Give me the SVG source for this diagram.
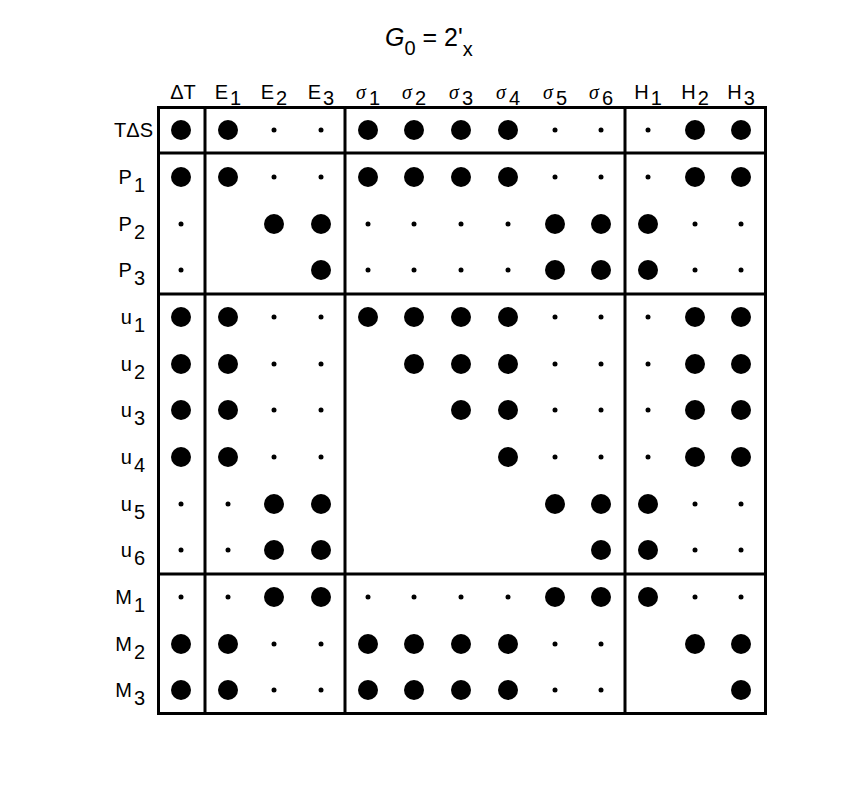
<svg xmlns="http://www.w3.org/2000/svg" width="856" height="812" viewBox="0 0 856 812">
<style>
text{font-family:"Liberation Sans",Arial,sans-serif;font-size:20px;fill:#000}
.g{font-family:"Liberation Serif",serif;font-style:italic}
.b{fill:#000}
.l{stroke:#000;stroke-width:3;fill:none}
</style>
<defs><circle id="B" r="10"/><circle id="S" r="2.5"/></defs>
<rect width="856" height="812" fill="#fff"/>
<text x="385" y="46" style="font-size:25px"><tspan font-style="italic">G</tspan><tspan dy="9" font-size="20">0</tspan><tspan dy="-9"> = 2'</tspan><tspan dy="10" font-size="20">x</tspan></text>
<g id="cols" text-anchor="middle">
<text x="183" y="99">ΔT</text>
<text x="228" y="99">E<tspan dy="6" dx="2">1</tspan></text>
<text x="274" y="99">E<tspan dy="6" dx="2">2</tspan></text>
<text x="321" y="99">E<tspan dy="6" dx="2">3</tspan></text>
<text x="368" y="99"><tspan class="g">σ</tspan><tspan dy="6" dx="3">1</tspan></text>
<text x="414" y="99"><tspan class="g">σ</tspan><tspan dy="6" dx="3">2</tspan></text>
<text x="461" y="99"><tspan class="g">σ</tspan><tspan dy="6" dx="3">3</tspan></text>
<text x="508" y="99"><tspan class="g">σ</tspan><tspan dy="6" dx="3">4</tspan></text>
<text x="555" y="99"><tspan class="g">σ</tspan><tspan dy="6" dx="3">5</tspan></text>
<text x="601" y="99"><tspan class="g">σ</tspan><tspan dy="6" dx="3">6</tspan></text>
<text x="648" y="99">H<tspan dy="6" dx="2">1</tspan></text>
<text x="695" y="99">H<tspan dy="6" dx="2">2</tspan></text>
<text x="741" y="99">H<tspan dy="6" dx="2">3</tspan></text>
</g>
<g id="rows" text-anchor="end">
<text x="153" y="137">TΔS</text>
<text x="145" y="184">P<tspan dy="8" dx="2">1</tspan></text>
<text x="145" y="231">P<tspan dy="8" dx="2">2</tspan></text>
<text x="145" y="277">P<tspan dy="8" dx="2">3</tspan></text>
<text x="145" y="324">u<tspan dy="8" dx="2">1</tspan></text>
<text x="145" y="371">u<tspan dy="8" dx="2">2</tspan></text>
<text x="145" y="417">u<tspan dy="8" dx="2">3</tspan></text>
<text x="145" y="464">u<tspan dy="8" dx="2">4</tspan></text>
<text x="145" y="511">u<tspan dy="8" dx="2">5</tspan></text>
<text x="145" y="557">u<tspan dy="8" dx="2">6</tspan></text>
<text x="145" y="604">M<tspan dy="8" dx="2">1</tspan></text>
<text x="145" y="651">M<tspan dy="8" dx="2">2</tspan></text>
<text x="145" y="697">M<tspan dy="8" dx="2">3</tspan></text>
</g>
<g id="grid" class="l">
<rect x="158.5" y="107.5" width="607" height="606"/>
<path d="M205 107V714M345 107V714M625 107V714M158 153H766M158 294H766M158 574H766"/>
</g>
<g id="dots" class="b">
<g id="r1" transform="translate(0,130)"><use href="#B" x="181"/><use href="#B" x="228"/><use href="#S" x="274"/><use href="#S" x="321"/><use href="#B" x="368"/><use href="#B" x="414"/><use href="#B" x="461"/><use href="#B" x="508"/><use href="#S" x="555"/><use href="#S" x="601"/><use href="#S" x="648"/><use href="#B" x="695"/><use href="#B" x="741"/></g>
<g id="r2" transform="translate(0,177)"><use href="#B" x="181"/><use href="#B" x="228"/><use href="#S" x="274"/><use href="#S" x="321"/><use href="#B" x="368"/><use href="#B" x="414"/><use href="#B" x="461"/><use href="#B" x="508"/><use href="#S" x="555"/><use href="#S" x="601"/><use href="#S" x="648"/><use href="#B" x="695"/><use href="#B" x="741"/></g>
<g id="r3" transform="translate(0,224)"><use href="#S" x="181"/><use href="#B" x="274"/><use href="#B" x="321"/><use href="#S" x="368"/><use href="#S" x="414"/><use href="#S" x="461"/><use href="#S" x="508"/><use href="#B" x="555"/><use href="#B" x="601"/><use href="#B" x="648"/><use href="#S" x="695"/><use href="#S" x="741"/></g>
<g id="r4" transform="translate(0,270)"><use href="#S" x="181"/><use href="#B" x="321"/><use href="#S" x="368"/><use href="#S" x="414"/><use href="#S" x="461"/><use href="#S" x="508"/><use href="#B" x="555"/><use href="#B" x="601"/><use href="#B" x="648"/><use href="#S" x="695"/><use href="#S" x="741"/></g>
<g id="r5" transform="translate(0,317)"><use href="#B" x="181"/><use href="#B" x="228"/><use href="#S" x="274"/><use href="#S" x="321"/><use href="#B" x="368"/><use href="#B" x="414"/><use href="#B" x="461"/><use href="#B" x="508"/><use href="#S" x="555"/><use href="#S" x="601"/><use href="#S" x="648"/><use href="#B" x="695"/><use href="#B" x="741"/></g>
<g id="r6" transform="translate(0,364)"><use href="#B" x="181"/><use href="#B" x="228"/><use href="#S" x="274"/><use href="#S" x="321"/><use href="#B" x="414"/><use href="#B" x="461"/><use href="#B" x="508"/><use href="#S" x="555"/><use href="#S" x="601"/><use href="#S" x="648"/><use href="#B" x="695"/><use href="#B" x="741"/></g>
<g id="r7" transform="translate(0,410)"><use href="#B" x="181"/><use href="#B" x="228"/><use href="#S" x="274"/><use href="#S" x="321"/><use href="#B" x="461"/><use href="#B" x="508"/><use href="#S" x="555"/><use href="#S" x="601"/><use href="#S" x="648"/><use href="#B" x="695"/><use href="#B" x="741"/></g>
<g id="r8" transform="translate(0,457)"><use href="#B" x="181"/><use href="#B" x="228"/><use href="#S" x="274"/><use href="#S" x="321"/><use href="#B" x="508"/><use href="#S" x="555"/><use href="#S" x="601"/><use href="#S" x="648"/><use href="#B" x="695"/><use href="#B" x="741"/></g>
<g id="r9" transform="translate(0,504)"><use href="#S" x="181"/><use href="#S" x="228"/><use href="#B" x="274"/><use href="#B" x="321"/><use href="#B" x="555"/><use href="#B" x="601"/><use href="#B" x="648"/><use href="#S" x="695"/><use href="#S" x="741"/></g>
<g id="r10" transform="translate(0,550)"><use href="#S" x="181"/><use href="#S" x="228"/><use href="#B" x="274"/><use href="#B" x="321"/><use href="#B" x="601"/><use href="#B" x="648"/><use href="#S" x="695"/><use href="#S" x="741"/></g>
<g id="r11" transform="translate(0,597)"><use href="#S" x="181"/><use href="#S" x="228"/><use href="#B" x="274"/><use href="#B" x="321"/><use href="#S" x="368"/><use href="#S" x="414"/><use href="#S" x="461"/><use href="#S" x="508"/><use href="#B" x="555"/><use href="#B" x="601"/><use href="#B" x="648"/><use href="#S" x="695"/><use href="#S" x="741"/></g>
<g id="r12" transform="translate(0,644)"><use href="#B" x="181"/><use href="#B" x="228"/><use href="#S" x="274"/><use href="#S" x="321"/><use href="#B" x="368"/><use href="#B" x="414"/><use href="#B" x="461"/><use href="#B" x="508"/><use href="#S" x="555"/><use href="#S" x="601"/><use href="#B" x="695"/><use href="#B" x="741"/></g>
<g id="r13" transform="translate(0,690)"><use href="#B" x="181"/><use href="#B" x="228"/><use href="#S" x="274"/><use href="#S" x="321"/><use href="#B" x="368"/><use href="#B" x="414"/><use href="#B" x="461"/><use href="#B" x="508"/><use href="#S" x="555"/><use href="#S" x="601"/><use href="#B" x="741"/></g>
</g>
</svg>
